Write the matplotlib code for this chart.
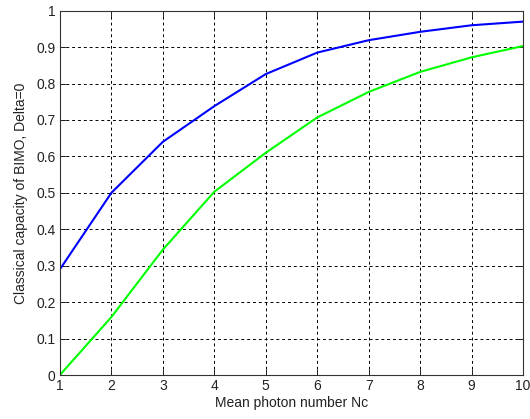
import matplotlib
matplotlib.use('Agg')
import matplotlib.pyplot as plt

# mean photon number
nc = [1, 2, 3, 4, 5, 6, 7, 8, 9, 10]
# upper (blue) curve
cap_blue = [0.29, 0.50, 0.64, 0.738, 0.826, 0.885, 0.919, 0.942, 0.960, 0.970]
# lower (green) curve
cap_green = [0.0, 0.159, 0.344, 0.503, 0.61, 0.707, 0.777, 0.832, 0.872, 0.903]

plt.rcParams['font.family'] = ['Liberation Sans', 'DejaVu Sans']
plt.rcParams['font.size'] = 10

fig = plt.figure(figsize=(5.30, 4.19), dpi=100)
ax = fig.add_axes([0.113, 0.105, 0.874, 0.8695])

ax.plot(nc, cap_blue, color='#0000ff', linewidth=1.5)
ax.plot(nc, cap_green, color='#00ff00', linewidth=1.5)

ax.set_xlim(1, 10)
ax.set_ylim(0, 1)
ax.set_xticks(range(1, 11))
ax.set_yticks([i / 10 for i in range(11)])
ax.set_yticklabels(['0', '0.1', '0.2', '0.3', '0.4', '0.5', '0.6', '0.7', '0.8', '0.9', '1'])

ax.grid(True, color='black', linestyle=(0, (3, 3)), linewidth=0.7)
ax.tick_params(direction='in', top=True, right=True, length=4, width=0.7, pad=3, colors='#222222')
for sp in ax.spines.values():
    sp.set_linewidth(0.8)
    sp.set_color('#333333')

ax.set_xlabel('Mean photon number Nc', labelpad=2, color='#222222')
ax.set_ylabel('Classical capacity of BIMO, Delta=0', labelpad=6, color='#222222')

fig.savefig('out.png', dpi=100)
